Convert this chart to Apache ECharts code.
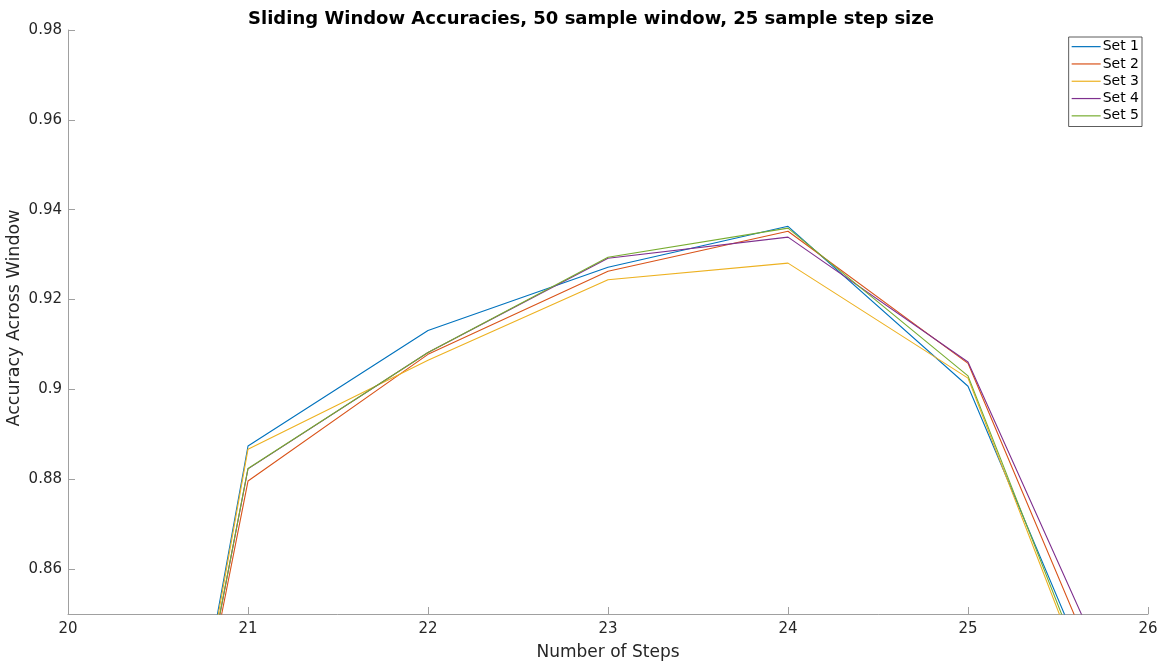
<!DOCTYPE html>
<html>
<head>
<meta charset="utf-8">
<script src="https://cdn.jsdelivr.net/npm/echarts@6/dist/echarts.min.js"></script>
<style>
  html, body { margin: 0; padding: 0; background: #fff; }
  #chart { width: 1165px; height: 664px; }
</style>
</head>
<body>
<div id="chart"></div>
<script>
// ========================================
// DATA
// ========================================
var steps = [20, 21, 22, 23, 24, 25, 26];
var set1 = [0.667, 0.8874, 0.9131, 0.9272, 0.9363, 0.9007, 0.806];
var set2 = [0.677, 0.8796, 0.9078, 0.9263, 0.9352, 0.9058, 0.811];
var set3 = [0.664, 0.8867, 0.9065, 0.9244, 0.9281, 0.9025, 0.799];
var set4 = [0.675, 0.8823, 0.9082, 0.9292, 0.9339, 0.9061, 0.817];
var set5 = [0.675, 0.8824, 0.9082, 0.9294, 0.9359, 0.9030, 0.801];
var seriesNames = ['Set 1', 'Set 2', 'Set 3', 'Set 4', 'Set 5'];
var yTicks = [0.86, 0.88, 0.9, 0.92, 0.94, 0.96, 0.98];

// MATLAB default line colours
var colors = ['#0072BD', '#D95319', '#EDB120', '#7E2F8E', '#77AC30'];
var textColor = '#262626';
var axisColor = '#a0a0a0';
var font = 'DejaVu Sans';

function pairUp(values) {
  return steps.map(function (x, i) { return [x, values[i]]; });
}

var allSets = [set1, set2, set3, set4, set5];

var chart = echarts.init(document.getElementById('chart'), null, { renderer: 'canvas' });
chart.setOption({
  animation: false,
  color: colors,
  textStyle: { fontFamily: font },
  title: {
    text: 'Sliding Window Accuracies, 50 sample window, 25 sample step size',
    left: 586,
    top: 5,
    textAlign: 'center',
    textStyle: { fontFamily: font, fontSize: 18, fontWeight: 'bold', color: '#000' }
  },
  grid: { left: 68, right: 17, top: 30, bottom: 50, outerBoundsMode: 'none' },
  legend: {
    orient: 'vertical',
    right: 23,
    top: 37,
    itemWidth: 29,
    itemHeight: 1.2,
    itemGap: 0,
    padding: [1, 3, 2, 3],
    borderColor: '#333',
    borderWidth: 0.8,
    backgroundColor: '#fff',
    icon: 'rect',
    textStyle: { fontFamily: font, fontSize: 14, lineHeight: 17.3, color: '#000', padding: [0, 0, 0, -3] },
    data: seriesNames
  },
  xAxis: {
    type: 'value',
    min: 20,
    max: 26,
    interval: 1,
    name: 'Number of Steps',
    nameLocation: 'middle',
    nameGap: 30,
    nameMoveOverlap: false,
    nameTextStyle: { fontFamily: font, fontSize: 17, color: textColor },
    axisLine: { lineStyle: { color: axisColor, width: 1 } },
    axisTick: { inside: true, length: 7, lineStyle: { color: axisColor } },
    axisLabel: { fontFamily: font, fontSize: 15, color: textColor, margin: 8 },
    splitLine: { show: false }
  },
  yAxis: {
    type: 'value',
    min: 0.85,
    max: 0.98,
    name: 'Accuracy Across Window',
    nameLocation: 'middle',
    nameGap: 45,
    nameMoveOverlap: false,
    nameTextStyle: { fontFamily: font, fontSize: 17.5, color: textColor, padding: [0, 0, 0, 8] },
    axisLine: { show: true, lineStyle: { color: axisColor, width: 1 } },
    axisTick: { show: true, inside: true, length: 7, customValues: yTicks, lineStyle: { color: axisColor } },
    axisLabel: {
      fontFamily: font, fontSize: 15, color: textColor, margin: 6,
      customValues: yTicks,
      formatter: function (v) { return String(parseFloat(v.toFixed(4))); }
    },
    splitLine: { show: false }
  },
  series: allSets.map(function (vals, i) {
    return {
      name: seriesNames[i],
      type: 'line',
      data: pairUp(vals),
      symbol: 'none',
      clip: true,
      lineStyle: { width: 1.1, color: colors[i] },
      itemStyle: { color: colors[i] }
    };
  })
});
</script>
</body>
</html>
